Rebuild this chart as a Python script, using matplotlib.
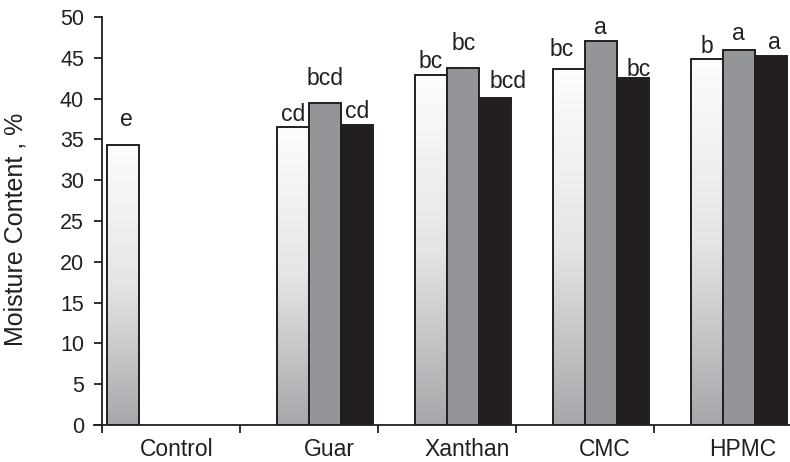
import numpy as np
import matplotlib
matplotlib.use('Agg')
import matplotlib.pyplot as plt
from matplotlib.colors import LinearSegmentedColormap

# data
categories = ['Control', 'Guar', 'Xanthan', 'CMC', 'HPMC']
control_vals = [34.3, np.nan, np.nan, np.nan, np.nan]
light_vals = [np.nan, 36.5, 42.9, 43.6, 44.8]
gray_vals = [np.nan, 39.4, 43.8, 47.1, 46.0]
dark_vals = [np.nan, 36.8, 40.1, 42.5, 45.2]
control_letters = ['e', '', '', '', '']
light_letters = ['', 'cd', 'bc', 'bc', 'b']
gray_letters = ['', 'bcd', 'bc', 'a', 'a']
dark_letters = ['', 'cd', 'bcd', 'bc', 'a']
yticks = [0, 5, 10, 15, 20, 25, 30, 35, 40, 45, 50]

plt.rcParams['font.family'] = ['Liberation Sans', 'DejaVu Sans']
txt = '#231f20'

fig = plt.figure(figsize=(7.9, 4.62), dpi=100)
ax = fig.add_axes([93.7 / 790, 37 / 462, 698 / 790, 408 / 462])

w = 32 / 138          # bar width (category width = 1)
gap = 5 / 138
x = np.arange(len(categories))

series = [
    (control_vals, control_letters, 'grad'),
    (light_vals, light_letters, 'grad'),
    (gray_vals, gray_letters, '#939598'),
    (dark_vals, dark_letters, '#231f20'),
]

# hand-placed letters in the original: (category, series) -> (dx px, dy px)
nudge = {(0, 0): (3, 13), (1, 2): (0, 12), (2, 2): (1, 11), (3, 1): (-7, 7),
         (2, 3): (13, 3), (3, 3): (6, -4), (4, 2): (0, 3), (4, 3): (4, 1)}

cmap = LinearSegmentedColormap.from_list('g', ['#fdfdfd', '#e4e5e6', '#a6a7aa'])
grad = np.linspace(0, 1, 256).reshape(-1, 1)

for k, (vals, letters, color) in enumerate(series):
    left = x - 0.5 + gap + k * w
    fc = 'none' if color == 'grad' else color
    bars = ax.bar(left, vals, width=w, align='edge', facecolor=fc,
                  edgecolor='#231f20', linewidth=1.4, zorder=3)
    for i, b in enumerate(bars):
        h = b.get_height()
        if np.isnan(h):
            continue
        if color == 'grad':
            ax.imshow(grad, cmap=cmap, aspect='auto', zorder=2,
                      extent=[b.get_x(), b.get_x() + w, 0, h])
        if letters[i]:
            dx, dy = nudge.get((i, k), (0, 0))
            ax.annotate(letters[i], (b.get_x() + w / 2, h),
                        xytext=(dx * 0.72, (6.5 + dy) * 0.72),
                        textcoords='offset points', ha='center',
                        va='baseline', fontsize=16.5, color=txt, zorder=4)

ax.set_xlim(-0.56, 4.5)
ax.set_ylim(0, 50)
ax.spines['top'].set_visible(False)
ax.spines['right'].set_visible(False)
ax.spines['left'].set_position(('data', -0.5))
for s in ['left', 'bottom']:
    ax.spines[s].set_linewidth(1.3)
    ax.spines[s].set_color('#231f20')
    ax.spines[s].set_zorder(5)

ax.set_yticks(yticks)
ax.set_yticklabels([str(v) for v in yticks])
ax.tick_params(axis='y', length=6, width=1.3, color='#231f20', pad=7,
               labelsize=15.5, labelcolor=txt)

ax.set_xticks(x - 0.5)
ax.set_xticklabels([])
label_pos = [i + (0.04 if i == 0 else 0.145) for i in x]
ax.set_xticks(label_pos, minor=True)
ax.set_xticklabels(categories, minor=True)
ax.tick_params(axis='x', which='major', length=6, width=1.3, color='#231f20')
ax.tick_params(axis='x', which='minor', length=0, pad=9.5, labelsize=16.5,
               labelcolor=txt)

fig.text(16 / 790, 1 - 229 / 462, 'Moisture Content , %', rotation=90,
         ha='center', va='center', fontsize=18, color=txt)

plt.savefig('out.png', dpi=100)
